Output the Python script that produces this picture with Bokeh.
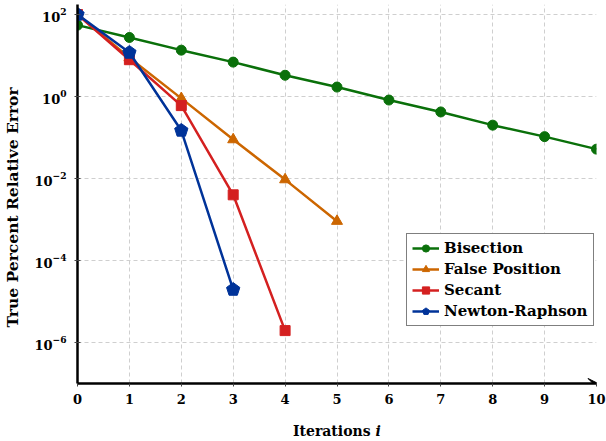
from bokeh.plotting import figure
from bokeh.layouts import column
from bokeh.models import (FixedTicker, Legend, LegendItem, Arrow, VeeHead, Range1d, Div)
from bokeh.embed import file_html
from bokeh.resources import INLINE

# ---- data ----
iter_bisection = [0, 1, 2, 3, 4, 5, 6, 7, 8, 9, 10]
err_bisection = [55, 27.5, 13.5, 6.9, 3.3, 1.7, 0.82, 0.42, 0.2, 0.105, 0.052]

iter_false = [0, 1, 2, 3, 4, 5]
err_false = [100, 8.8, 0.9, 0.089, 0.0094, 0.00091]

iter_secant = [0, 1, 2, 3, 4]
err_secant = [100, 7.9, 0.6, 0.004, 1.95e-6]

iter_newton = [0, 1, 2, 3]
err_newton = [100, 11.8, 0.148, 1.95e-5]

x_ticks = [0, 1, 2, 3, 4, 5, 6, 7, 8, 9, 10]
y_ticks = [1e-6, 1e-4, 1e-2, 1, 1e2]

labels = ["Bisection", "False Position", "Secant", "Newton-Raphson"]
colors = ["#0a700a", "#cc6600", "#d42020", "#003399"]

FONT = "DejaVu Serif"

p = figure(width=606, height=418, y_axis_type="log",
           x_range=Range1d(0, 10), y_range=Range1d(1e-7, 10 ** 2.244),
           output_backend="svg", toolbar_location=None,
           min_border_left=76, min_border_right=10, min_border_top=4, min_border_bottom=35)
p.outline_line_color = None
p.background_fill_color = "white"

# grids
p.xgrid.ticker = FixedTicker(ticks=x_ticks)
p.ygrid.ticker = FixedTicker(ticks=y_ticks)
for g in (p.xgrid, p.ygrid):
    g.grid_line_color = "#cfcfcf"
    g.grid_line_dash = "4 3"
    g.grid_line_width = 1

# axes
p.xaxis.ticker = FixedTicker(ticks=x_ticks)
p.yaxis.ticker = FixedTicker(ticks=y_ticks)
for ax in (p.xaxis, p.yaxis):
    ax.axis_line_color = "black"
    ax.axis_line_width = 2.5
    ax.major_tick_line_color = "#444444"
    ax.major_tick_line_width = 1
    ax.minor_tick_line_color = None
    ax.major_label_text_font = FONT
    ax.major_label_text_font_style = "bold"
    ax.major_label_text_font_size = "13px"
    ax.major_label_text_color = "black"
p.xaxis.major_tick_in = 0
p.xaxis.major_tick_out = 3
p.xaxis.major_label_standoff = 7
p.yaxis.major_tick_in = 3
p.yaxis.major_tick_out = 3
p.yaxis.major_label_standoff = 8

p.yaxis.axis_label = "True Percent Relative Error" + "\u00a0" * 5
p.yaxis.axis_label_text_font = FONT
p.yaxis.axis_label_text_font_style = "bold"
p.yaxis.axis_label_text_font_size = "15.5px"
p.yaxis.axis_label_text_color = "black"
p.yaxis.axis_label_standoff = 9

# arrow head at the end of the x axis
p.add_layout(Arrow(end=VeeHead(size=10, fill_color="black", line_color="black", line_width=1),
                   x_start=9.9, y_start=1e-7, x_end=10.03, y_end=1e-7,
                   line_alpha=0))

items = []
# Bisection
l = p.line(iter_bisection, err_bisection, line_color=colors[0], line_width=2.5)
s = p.scatter(iter_bisection, err_bisection, marker="circle", size=10,
              fill_color=colors[0], line_color=colors[0])
items.append(LegendItem(label=labels[0], renderers=[l, s]))
# False Position
l = p.line(iter_false, err_false, line_color=colors[1], line_width=2.5)
s = p.scatter(iter_false, err_false, marker="triangle", size=11,
              fill_color=colors[1], line_color=colors[1])
items.append(LegendItem(label=labels[1], renderers=[l, s]))
# Secant
l = p.line(iter_secant, err_secant, line_color=colors[2], line_width=2.5)
s = p.scatter(iter_secant, err_secant, marker="square", size=10,
              fill_color=colors[2], line_color=colors[2])
items.append(LegendItem(label=labels[2], renderers=[l, s]))
# Newton-Raphson
l = p.line(iter_newton, err_newton, line_color=colors[3], line_width=2.5)
try:
    s = p.ngon(x=iter_newton, y=err_newton, radius=7, radius_units="screen", n=5,
               angle=0, fill_color=colors[3], line_color=colors[3])
except Exception:
    s = p.scatter(iter_newton, err_newton, marker="hex", size=12,
                  fill_color=colors[3], line_color=colors[3])
items.append(LegendItem(label=labels[3], renderers=[l, s]))

legend = Legend(items=items, location=(329, 57))
legend.label_text_font = FONT
legend.label_text_font_style = "bold"
legend.label_text_font_size = "15px"
legend.label_text_color = "black"
legend.border_line_color = "black"
legend.border_line_width = 1.5
legend.background_fill_color = "white"
legend.background_fill_alpha = 1
legend.padding = 5
legend.spacing = 3
legend.glyph_width = 27
legend.glyph_height = 18
legend.label_standoff = 5
legend.margin = 0
p.add_layout(legend)

# x axis label: "Iterations i" with italic i
xlabel = Div(
    text=('<div style="font-family: \'DejaVu Serif\'; font-weight: bold; font-size: 14px; '
          'line-height: 17px; margin: 0 0 0 288px; padding: 0; color: black; white-space: nowrap;">'
          'Iterations <i>i</i></div>'),
    width=606, height=23)

layout = column(p, xlabel, spacing=0)
open("out.html", "w").write(file_html(layout, INLINE))
